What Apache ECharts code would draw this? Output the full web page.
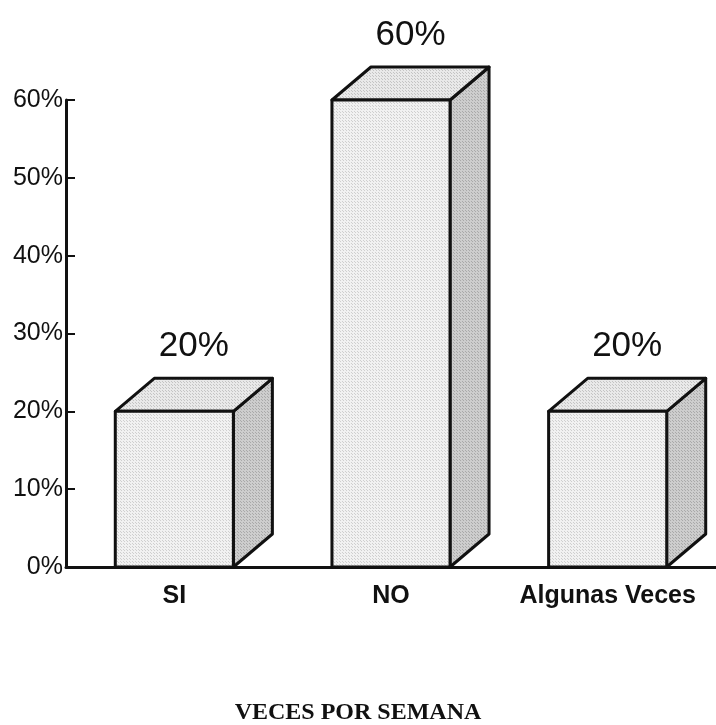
<!DOCTYPE html>
<html>
<head>
<meta charset="utf-8">
<script src="https://cdn.jsdelivr.net/npm/echarts@6/dist/echarts.min.js"></script>
<style>
  html, body { margin: 0; padding: 0; background: #fff; }
  #chart { width: 716px; height: 725px; }
</style>
</head>
<body>
<div id="chart"></div>
<script>
// datos
const categories = ["SI", "NO", "Algunas Veces"];
const percentages = [20, 60, 20];
const titleText = "VECES POR SEMANA";

const ink = "#111111";
// profundidad de la caja (px)
const depthX = 39;
const depthY = 33;

// trama de puntos tipo fotocopia
function dotPattern(bg, dot, step) {
  const c = document.createElement("canvas");
  c.width = step;
  c.height = step;
  const ctx = c.getContext("2d");
  ctx.fillStyle = bg;
  ctx.fillRect(0, 0, step, step);
  ctx.fillStyle = dot;
  ctx.fillRect(0, 0, 1, 1);
  ctx.fillRect(Math.floor(step / 2), Math.floor(step / 2), 1, 1);
  return { image: c, repeat: "repeat" };
}

const frontFill = dotPattern("#f1f1f1", "#cfcfcf", 3);
const topFill = dotPattern("#e9e9e9", "#c4c4c4", 3);
const sideFill = dotPattern("#cdcdcd", "#a9a9a9", 3);

const chart = echarts.init(document.getElementById("chart"));

function renderBox(params, api) {
  const idx = api.value(0);
  const val = api.value(1);
  const base = api.coord([idx, 0]);
  const top = api.coord([idx, val]);
  const band = api.size([1, 0])[0];
  const w = band * 0.545;
  const x0 = top[0] - w / 2;
  const x1 = top[0] + w / 2;
  const y0 = top[1];
  const yb = base[1];
  const stroke = { stroke: ink, lineWidth: 3, lineJoin: "round" };
  return {
    type: "group",
    children: [
      {
        // lado derecho
        type: "polygon",
        shape: {
          points: [
            [x1, y0],
            [x1 + depthX, y0 - depthY],
            [x1 + depthX, yb - depthY],
            [x1, yb],
          ],
        },
        style: Object.assign({ fill: sideFill }, stroke),
      },
      {
        // tapa
        type: "polygon",
        shape: {
          points: [
            [x0, y0],
            [x0 + depthX, y0 - depthY],
            [x1 + depthX, y0 - depthY],
            [x1, y0],
          ],
        },
        style: Object.assign({ fill: topFill }, stroke),
      },
      {
        // frente
        type: "rect",
        shape: { x: x0, y: y0, width: w, height: yb - y0 },
        style: Object.assign({ fill: frontFill }, stroke),
      },
      {
        type: "text",
        x: top[0] + depthX / 2,
        y: y0 - depthY - 14,
        style: {
          text: val + "%",
          fill: ink,
          font: "normal 35px 'Liberation Sans', Arial, sans-serif",
          align: "center",
          verticalAlign: "bottom",
        },
      },
    ],
  };
}

const option = {
  backgroundColor: "#ffffff",
  animation: false,
  title: {
    text: titleText,
    left: "center",
    top: 696,
    textStyle: {
      fontFamily: "Liberation Serif",
      fontWeight: "bold",
      fontSize: 24,
      color: ink,
    },
  },
  grid: {
    left: 66,
    right: 0,
    top: 100,
    bottom: 158,
    containLabel: false,
  },
  xAxis: {
    type: "category",
    data: categories,
    axisLine: { lineStyle: { color: ink, width: 3 } },
    axisTick: { inside: true, length: 8, lineStyle: { color: ink, width: 2 } },
    axisLabel: {
      interval: 0,
      margin: 17,
      color: ink,
      fontSize: 25,
      fontWeight: "bold",
      fontFamily: "Liberation Sans",
    },
  },
  yAxis: {
    type: "value",
    min: 0,
    max: 60,
    interval: 10,
    splitLine: { show: false },
    axisLine: { show: true, lineStyle: { color: ink, width: 3 } },
    axisTick: { show: true, inside: true, length: 9, lineStyle: { color: ink, width: 2 } },
    axisLabel: {
      margin: 3,
      color: ink,
      fontSize: 25,
      fontFamily: "Liberation Sans",
      formatter: "{value}%",
    },
  },
  series: [
    {
      type: "custom",
      clip: false,
      renderItem: renderBox,
      data: percentages.map((v, i) => [i, v]),
    },
  ],
};

chart.setOption(option);
</script>
</body>
</html>
